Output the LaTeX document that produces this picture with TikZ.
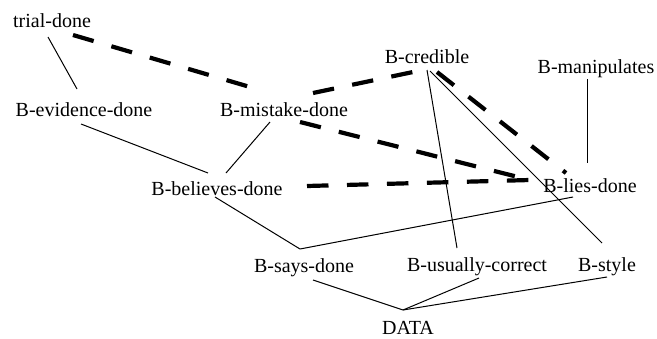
\documentclass[tikz,border=0pt]{standalone}
\usepackage{fontspec}
\setmainfont{Liberation Serif}
\begin{document}
\begin{tikzpicture}[x=1pt,y=-1pt,
  lbl/.style={anchor=base,inner sep=0pt,font=\fontsize{20}{24}\selectfont},
  edge/.style={line width=1pt},
  dedge/.style={line width=4.2pt,dash pattern=on 21.5pt off 18.5pt}]
\path[use as bounding box] (0,0) rectangle (657,338);
\node[lbl] (T) at (52,27) {trial-done};
\node[lbl] (E) at (84,116) {B-evidence-done};
\node[lbl] (M) at (284,116) {B-mistake-done};
\node[lbl] (C) at (427,63) {B-credible};
\node[lbl] (P) at (596,73) {B-manipulates};
\node[lbl] (B) at (217,195) {B-believes-done};
\node[lbl] (L) at (590,192) {B-lies-done};
\node[lbl] (S) at (304,272) {B-says-done};
\node[lbl] (U) at (477,271) {B-usually-correct};
\node[lbl] (Y) at (607,271) {B-style};
\node[lbl] (D) at (408,334) {DATA};
% solid edges
\draw[edge] ([shift={(-4,10)}]T.base) -- ([shift={(-7,-27)}]E.base);
\draw[edge] ([shift={(-3,8)}]E.base) -- ([shift={(-9,-22)}]B.base);
\draw[edge] ([shift={(-14,6)}]M.base) -- ([shift={(9,-22)}]B.base);
\draw[edge] ([shift={(-2,2)}]B.base) -- ([shift={(-4,-23)}]S.base);
\draw[edge] ([shift={(-4,-23)}]S.base) -- ([shift={(-17,5)}]L.base);
\draw[edge] ([shift={(0,7)}]C.base) -- ([shift={(-20,-23)}]U.base);
\draw[edge] ([shift={(3,8)}]C.base) -- ([shift={(-5,-28)}]Y.base);
\draw[edge] ([shift={(-9,6)}]P.base) -- ([shift={(-3,-29)}]L.base);
\draw[edge] ([shift={(9,8)}]S.base) -- ([shift={(-5,-24)}]D.base);
\draw[edge] ([shift={(2,7)}]U.base) -- ([shift={(-5,-24)}]D.base);
\draw[edge] ([shift={(0,6)}]Y.base) -- ([shift={(-5,-24)}]D.base);
% dashed edges
\draw[dedge] ([shift={(21,8)}]T.base) -- ([shift={(-34,-29)}]M.base);
\draw[dedge] ([shift={(29,-23)}]M.base) -- ([shift={(-14,9)}]C.base);
\draw[dedge] ([shift={(16,6)}]M.base) -- ([shift={(-60,-12)}]L.base);
\draw[dedge] ([shift={(90,-9)}]B.base) -- ([shift={(-60,-12)}]L.base);
\draw[dedge] ([shift={(10,9)}]C.base) -- ([shift={(-24,-19)}]L.base);
\end{tikzpicture}
\end{document}
